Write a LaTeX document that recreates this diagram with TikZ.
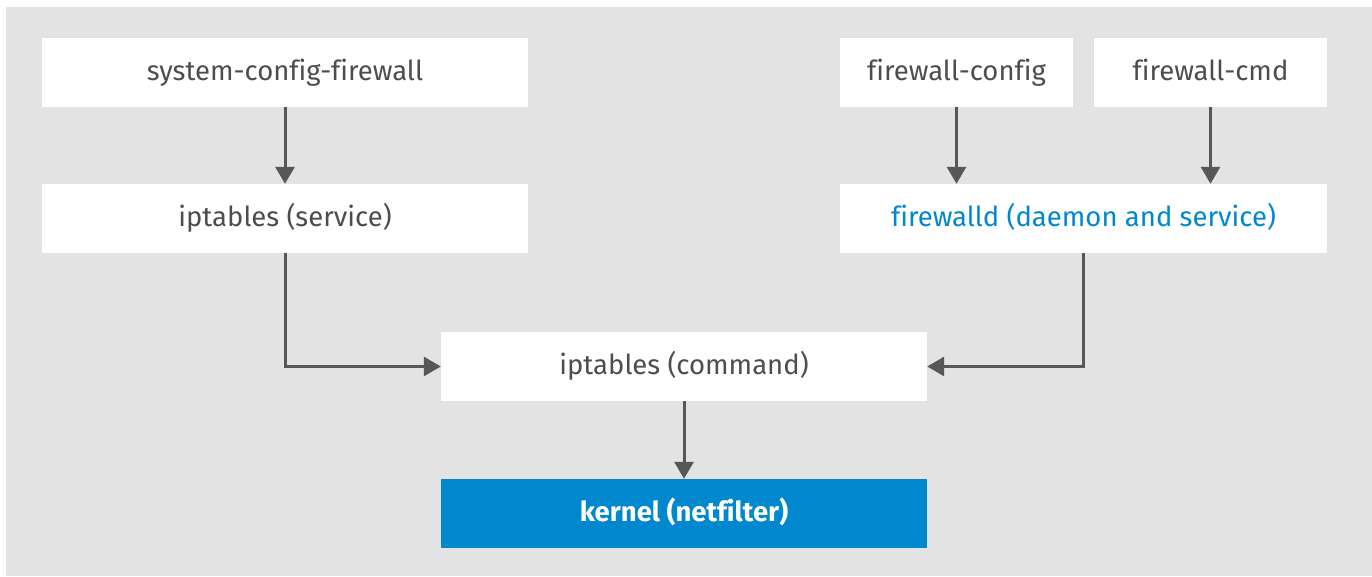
\documentclass[tikz,border=0pt]{standalone}
\usepackage{fontspec}
\setmainfont[Ligatures={NoCommon}]{Fira Sans}
\usetikzlibrary{arrows.meta}
\definecolor{bggray}{HTML}{E3E3E3}
\definecolor{rhblue}{HTML}{0088CE}
\definecolor{txtgray}{HTML}{4D4D4D}
\definecolor{arrgray}{HTML}{575757}
\begin{document}
\begin{tikzpicture}[x=1pt,y=-1pt,
  box/.style={fill=white, draw=none, minimum height=69pt, inner sep=0pt, text height=21pt, text depth=5pt, text=txtgray, font=\fontsize{27.5}{30}\selectfont},
  widebox/.style={box, minimum width=486pt},
  smallbox/.style={box, minimum width=233pt},
  conn/.style={draw=arrgray, line width=3pt, -{Triangle[length=17pt,width=19pt]}},
]
\useasboundingbox (0,0) rectangle (1372,576);
\fill[bggray] (6,7) rectangle (1372,576);
\node[widebox] (scf) at (285,72.5) {system-config-firewall};
\node[widebox] (ips) at (285,218.5) {iptables (service)};
\node[smallbox] (fc) at (956.5,72.5) {firewall-config};
\node[smallbox] (fcmd) at (1210.5,72.5) {firewall-cmd};
\node[widebox, minimum width=487pt, text=rhblue] (fwd) at (1083.5,218.5) {firewalld (daemon and service)};
\node[widebox] (ipc) at (684,366.5) {iptables (command)};
\node[widebox, fill=rhblue, text=white, font=\fontsize{27.5}{30}\selectfont\bfseries] (kern) at (684,513.5) {kernel (netfilter)};
\draw[conn] (scf) -- (ips);
\draw[conn] (fc) -- (fc |- fwd.north);
\draw[conn] (fcmd) -- (fcmd |- fwd.north);
\draw[conn] (ips.south) |- (ipc.west);
\draw[conn] (fwd.south) |- (ipc.east);
\draw[conn] (ipc) -- (kern);
\end{tikzpicture}
\end{document}
